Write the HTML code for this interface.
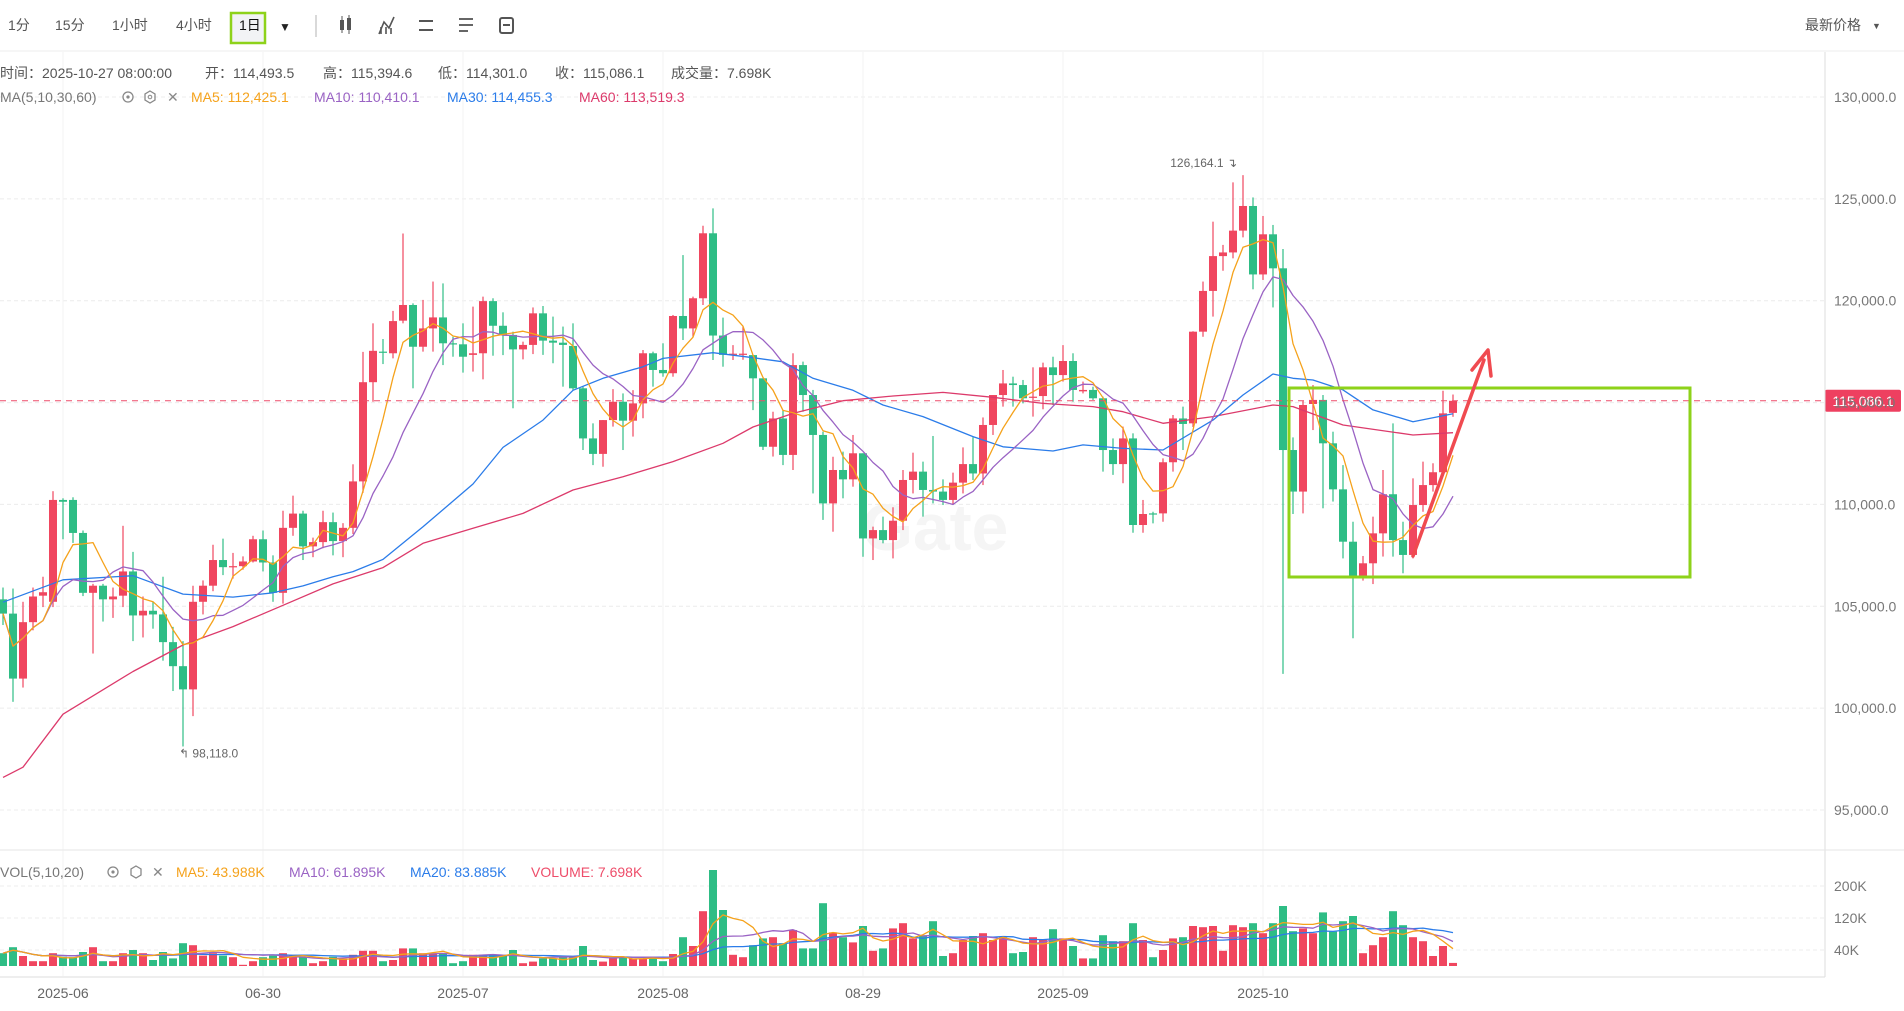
<!DOCTYPE html>
<html><head><meta charset="utf-8"><style>
html,body{margin:0;padding:0;background:#fff;}
svg{display:block;font-family:"Liberation Sans","Noto Sans CJK SC",sans-serif;}
</style></head><body>
<svg id="chart" width="1904" height="1011" viewBox="0 0 1904 1011" xmlns="http://www.w3.org/2000/svg">
<defs><clipPath id="priceClip"><rect x="0" y="52" width="1825" height="797"/></clipPath>
<clipPath id="volClip"><rect x="0" y="851" width="1825" height="125"/></clipPath></defs>
<!-- toolbar -->
<g font-size="14" fill="#555">
<text x="8" y="30">1分</text>
<text x="55" y="30">15分</text>
<text x="112" y="30">1小时</text>
<text x="176" y="30">4小时</text>
<rect x="231" y="13" width="34" height="30" fill="#f2f3f5" stroke="#8ed21a" stroke-width="2.5"/>
<text x="239" y="30" fill="#111">1日</text>
<text x="279" y="31" font-size="12" fill="#222">▼</text>
<line x1="316" y1="15" x2="316" y2="37" stroke="#ccc" stroke-width="1.5"/>
<g fill="#555"><rect x="340" y="20" width="4" height="10"/><rect x="347" y="18" width="4" height="12"/><line x1="342" y1="16" x2="342" y2="33" stroke="#555"/><line x1="349" y1="15" x2="349" y2="34" stroke="#555"/></g>
<g stroke="#555" stroke-width="1.6" fill="none"><polyline points="379,34 384,22 389,28 394,17"/><line x1="381" y1="34" x2="381" y2="27"/><line x1="386" y1="34" x2="386" y2="27"/><line x1="391" y1="34" x2="391" y2="28"/></g>
<g stroke="#555" stroke-width="2"><line x1="419" y1="21" x2="433" y2="21"/><line x1="419" y1="30" x2="433" y2="30"/></g>
<g stroke="#555" stroke-width="1.8"><line x1="459" y1="19" x2="473" y2="19"/><line x1="459" y1="25" x2="473" y2="25"/><line x1="459" y1="31" x2="468" y2="31"/></g>
<g stroke="#555" stroke-width="2" fill="none"><rect x="500" y="18" width="13" height="15" rx="2"/><line x1="503" y1="25" x2="510" y2="25"/></g>
<text x="1805" y="30" font-size="14" fill="#555">最新价格</text>
<text x="1872" y="29" font-size="9" fill="#555">▼</text>
</g>
<line x1="0" y1="51" x2="1904" y2="51" stroke="#eee"/>
<g id="grid"></g>
<g id="vol"></g>
<g id="price"></g>
<g id="axes"></g>
<!-- headers -->
<g font-size="14" fill="#555">
<text x="0" y="78">时间：2025-10-27 08:00:00</text>
<text x="205" y="78">开：114,493.5</text>
<text x="323" y="78">高：115,394.6</text>
<text x="438" y="78">低：114,301.0</text>
<text x="555" y="78">收：115,086.1</text>
<text x="671" y="78">成交量：7.698K</text>
</g>
<g font-size="14">
<text x="0" y="102" fill="#777">MA(5,10,30,60)</text>
<g><circle cx="128" cy="97" r="5" fill="none" stroke="#888" stroke-width="1.3"/><circle cx="128" cy="97" r="1.6" fill="#888"/></g>
<g><polygon points="150,91 155,94 155,100 150,103 145,100 145,94" fill="none" stroke="#888" stroke-width="1.3"/><circle cx="150" cy="97" r="1.8" fill="none" stroke="#888"/></g>
<text x="167" y="102" fill="#888">✕</text>
<text x="191" y="102" fill="#f5a21b">MA5: 112,425.1</text>
<text x="314" y="102" fill="#9a63c4">MA10: 110,410.1</text>
<text x="447" y="102" fill="#2b7ce9">MA30: 114,455.3</text>
<text x="579" y="102" fill="#dc3a6b">MA60: 113,519.3</text>
</g>
<g font-size="14">
<text x="0" y="877" fill="#777">VOL(5,10,20)</text>
<g><circle cx="113" cy="872" r="5" fill="none" stroke="#888" stroke-width="1.3"/><circle cx="113" cy="872" r="1.6" fill="#888"/></g>
<g><polygon points="136,866 141,869 141,875 136,878 131,875 131,869" fill="none" stroke="#888" stroke-width="1.3"/></g>
<text x="152" y="877" fill="#888">✕</text>
<text x="176" y="877" fill="#f5a21b">MA5: 43.988K</text>
<text x="289" y="877" fill="#9a63c4">MA10: 61.895K</text>
<text x="410" y="877" fill="#2b7ce9">MA20: 83.885K</text>
<text x="531" y="877" fill="#ee4d6a">VOLUME: 7.698K</text>
</g>
<script>
const opens=[105.34,104.64,101.45,104.22,105.52,105.22,110.22,110.22,108.60,105.66,106.01,105.34,105.52,106.71,104.55,104.78,104.60,103.24,102.06,100.92,105.22,106.01,107.27,106.92,106.97,107.20,108.29,107.15,105.66,108.85,109.55,107.94,108.15,109.13,108.20,108.85,111.13,116.00,117.50,117.42,119.02,119.79,117.74,118.64,119.18,117.91,117.86,117.34,117.42,119.98,118.77,118.32,117.61,117.83,119.38,118.04,117.94,117.78,115.70,113.24,112.48,114.14,115.04,114.11,114.96,117.42,116.60,116.44,119.25,118.64,120.12,123.31,118.29,117.34,117.35,117.33,116.19,112.83,114.22,112.43,116.84,115.37,113.41,110.05,111.69,111.23,112.51,108.33,108.74,108.25,109.20,111.20,111.61,110.71,110.63,110.22,111.07,111.98,111.52,113.90,115.37,115.94,115.86,115.25,115.32,116.73,116.35,117.04,115.55,115.62,115.21,112.67,111.98,113.24,108.99,109.56,109.56,112.07,114.22,113.98,118.48,120.48,122.19,122.37,123.44,124.65,121.29,123.26,121.59,112.67,110.63,114.93,115.13,113.00,110.74,108.17,106.37,107.11,108.58,110.50,108.25,107.52,109.97,110.95,111.58,114.4935];
const highs=[105.92,105.87,105.22,105.92,106.45,110.65,110.30,110.35,108.72,106.10,106.10,105.92,108.95,107.67,105.48,105.22,106.45,103.99,103.29,106.01,106.27,108.02,108.32,107.62,107.45,108.46,108.72,107.50,109.69,110.43,109.69,108.37,109.69,109.60,109.08,111.97,117.49,118.89,118.12,119.50,123.30,119.87,120.04,120.94,120.85,118.23,118.89,119.71,120.20,120.12,119.43,118.48,117.99,119.67,119.74,119.22,118.73,118.89,115.78,113.98,114.14,115.66,115.45,115.61,117.58,117.50,117.91,119.30,122.24,120.20,123.68,124.53,119.17,117.82,118.73,117.33,116.19,114.55,114.63,117.42,117.01,115.62,113.57,112.34,112.59,113.41,112.51,108.91,109.40,109.86,111.69,112.54,112.10,113.36,111.23,111.56,112.80,113.30,114.27,115.37,116.60,116.27,116.11,116.73,116.96,117.25,117.82,117.42,116.03,115.78,115.29,113.24,113.82,113.49,110.22,109.64,112.26,114.39,114.80,118.50,120.94,123.88,122.74,125.81,126.164,125.07,124.16,123.72,122.54,113.29,115.10,115.86,115.37,113.57,111.93,109.15,107.47,109.40,111.69,113.98,109.15,111.28,112.10,112.02,115.58,115.3946];
const lows=[104.08,100.31,101.01,103.82,104.96,104.96,108.29,108.11,105.50,102.68,104.25,104.43,104.96,103.29,103.47,103.90,102.33,100.84,98.118,99.61,104.60,105.74,106.53,106.36,106.80,107.15,106.71,105.22,105.13,108.46,107.27,107.41,107.85,107.50,107.41,108.55,110.57,115.04,116.89,117.17,118.89,115.70,117.50,117.50,116.84,117.25,116.47,116.52,116.14,117.30,117.33,114.72,117.12,117.38,117.34,116.93,115.78,115.61,112.67,111.93,111.85,113.82,112.67,113.33,114.23,115.78,116.27,116.27,118.07,118.23,119.79,117.09,116.76,117.09,117.10,114.63,112.67,112.35,111.93,111.69,114.55,110.54,109.24,108.66,110.30,110.87,107.43,107.27,108.09,107.35,108.74,110.54,109.40,110.05,109.97,110.02,110.54,111.20,110.95,113.41,114.80,114.80,114.96,114.31,114.67,114.88,116.03,115.04,115.45,115.13,111.61,111.45,111.04,108.61,108.61,109.07,109.15,111.61,112.67,113.80,118.23,119.22,121.47,122.08,123.11,120.56,121.02,119.67,101.68,109.53,109.56,113.65,109.81,110.14,107.35,103.43,106.26,106.09,107.44,107.44,106.62,107.35,109.64,110.63,111.40,114.301];
const closes=[104.64,101.45,104.22,105.48,105.69,110.22,110.13,108.60,105.66,106.01,105.34,105.48,106.71,104.55,104.78,104.60,103.24,102.06,100.92,105.22,106.01,107.27,106.92,106.97,107.20,108.29,107.15,105.66,108.85,109.55,107.94,108.15,109.13,108.20,108.85,111.13,116.00,117.54,117.45,119.00,119.79,117.74,118.64,119.18,117.91,117.86,117.25,117.42,119.98,118.77,118.32,117.61,117.83,119.38,118.04,117.94,117.83,115.70,113.24,112.48,114.14,115.04,114.11,114.96,117.42,116.60,116.44,119.25,118.64,120.12,123.31,118.29,117.34,117.40,117.40,116.19,112.83,114.22,112.43,116.84,115.37,113.41,110.05,111.69,111.23,112.51,108.33,108.74,108.25,109.20,111.20,111.61,110.71,110.63,110.22,111.07,111.98,111.52,113.90,115.37,115.94,115.86,115.21,115.29,116.73,116.35,117.04,115.62,115.62,115.21,112.67,111.98,113.24,108.99,109.53,109.53,112.07,114.22,113.95,118.48,120.48,122.19,122.37,123.44,124.65,121.29,123.26,121.59,112.67,110.63,114.88,115.13,113.00,110.74,108.17,106.37,107.11,108.58,110.50,108.25,107.52,109.97,110.95,111.58,114.47,115.0861];
const volumes=[32,47,25,12,12,32,23,22,35,47,12,12,32,40,32,15,35,19,57,52,26,32,26,22,3,12,22,26,32,28,22,7,12,23,19,28,38,38,12,15,44,44,32,32,32,7,12,28,28,28,28,40,7,11,19,19,23,23,50,15,11,19,23,19,19,19,12,30,72,50,137,240,140,28,22,52,69,72,57,90,44,44,157,84,72,59,100,38,44,94,107,69,77,112,25,32,65,75,82,65,72,32,35,72,65,92,69,50,19,19,77,62,62,107,65,22,40,69,72,100,97,100,38,102,97,107,82,107,150,87,94,82,134,86,112,125,32,52,72,137,102,72,62,25,50,7.698];
const ma30Idx=[0,6,13,18,23,27,30,33,35,38,42,47,50,54,57,60,64,66,71,75,78,81,85,88,92,97,100,105,108,112,116,121,124,127,129,131,134,137,141,145];
const ma30Val=[105.2,106.3,106.5,105.6,105.45,105.66,106.0,106.45,106.7,107.3,108.9,111.0,112.8,114.14,115.6,116.19,116.76,117.17,117.45,117.2,117.0,116.19,115.6,114.88,114.31,113.33,112.83,112.62,112.92,112.75,112.67,114.14,115.37,116.4,116.19,116.11,115.62,114.64,114.06,114.455];
const ma60Idx=[0,2,6,13,18,23,28,33,38,42,47,52,57,62,67,72,75,79,84,89,94,99,104,109,112,116,121,127,129,134,141,145];
const ma60Val=[96.6,97.1,99.7,101.8,103.1,104.0,105.05,106.1,106.9,108.09,108.83,109.56,110.71,111.36,112.1,113.0,113.8,114.47,115.09,115.32,115.5,115.26,114.96,114.8,114.55,113.98,114.31,114.88,114.8,113.9,113.41,113.52];
const priceTicks=[130,125,120,115,110,105,100,95];
const priceTickLabels=["130,000.0","125,000.0","120,000.0","115,000.0","110,000.0","105,000.0","100,000.0","95,000.0"];
const volTicks=[200,120,40];
const volTickLabels=["200K","120K","40K"];
const dateIdx=[6,26,46,66,86,106,126];
const dateLabels=["2025-06","06-30","2025-07","2025-08","08-29","2025-09","2025-10"];
const lastPrice=115.0861;

const NS="http://www.w3.org/2000/svg";
const UP="#f0465f", DOWN="#2ebd85";
function X(i){return 3+10*i;}
function YP(p){return 97+(130-p)*20.371;}
function YV(v){return 966-v*0.4;}
function mk(tag,attrs,parent){const e=document.createElementNS(NS,tag);for(const k in attrs)e.setAttribute(k,attrs[k]);parent.appendChild(e);return e;}
function ma(arr,n){return arr.map((v,i)=>{const s=Math.max(0,i-n+1);let t=0;for(let j=s;j<=i;j++)t+=arr[j];return t/(i-s+1);});}

const grid=document.getElementById('grid'), price=document.getElementById('price'), vol=document.getElementById('vol'), axes=document.getElementById('axes');
priceTicks.forEach((t,k)=>{
  const l=mk('line',{x1:0,x2:1825,y1:YP(t),y2:YP(t),stroke:'#ececec','stroke-dasharray':'4,3'},grid);
  
  
  const tx=mk('text',{x:1834,y:YP(t)+5,'font-size':14,fill:'#777'},axes);
  tx.textContent=priceTickLabels[k];
  
  
});
volTicks.forEach((t,k)=>{
  const l=mk('line',{x1:0,x2:1825,y1:YV(t),y2:YV(t),stroke:'#ececec','stroke-dasharray':'4,3'},grid);
  
  
  const tx=mk('text',{x:1834,y:YV(t)+5,'font-size':14,fill:'#777'},axes);
  tx.textContent=volTickLabels[k];
  
  
});
dateIdx.forEach((d,k)=>{
  const l=mk('line',{x1:X(d),x2:X(d),y1:52,y2:976,stroke:'#f3f3f3'},grid);
  
  
  const tx=mk('text',{x:X(d),y:998,'font-size':14,fill:'#666','text-anchor':'middle'},axes);
  tx.textContent=dateLabels[k];
  
  
});
mk('line',{x1:1825,x2:1825,y1:52,y2:977,stroke:'#ddd'},axes);
mk('line',{x1:0,x2:1904,y1:850,y2:850,stroke:'#e6e6e6'},axes);
mk('line',{x1:0,x2:1825,y1:977,y2:977,stroke:'#ddd'},axes);
const wm=mk('text',{x:935,y:550,'font-size':66,'font-weight':'bold',fill:'#f5f5f5','text-anchor':'middle'},grid);
wm.textContent='Gate';



const vg=mk('g',{'clip-path':'url(#volClip)'},vol);
volumes.forEach((v,i)=>{
  const c=closes[i]>=opens[i]?UP:DOWN;
  const r=mk('rect',{x:X(i)-4,y:YV(v),width:8,height:Math.max(1,966-YV(v)),fill:c},vg);
  
  
});
function line(idx,vals,yf,color,parent,name,w){
  const pts=idx.map((d,k)=>X(d)+','+yf(vals[k]).toFixed(1)).join(' ');
  const p=mk('polyline',{points:pts,fill:'none',stroke:color,'stroke-width':w||1.3,'stroke-linejoin':'round'},parent);
  
  
}
const allIdx=volumes.map((v,i)=>i);
line(allIdx,ma(volumes,20),YV,'#2b7ce9',vg,'volume-ma20-line');
line(allIdx,ma(volumes,10),YV,'#9a63c4',vg,'volume-ma10-line');
line(allIdx,ma(volumes,5),YV,'#f5a21b',vg,'volume-ma5-line');

const pg=mk('g',{'clip-path':'url(#priceClip)'},price);
closes.forEach((c,i)=>{
  const o=opens[i],col=c>=o?UP:DOWN;
  const g=mk('g',{},pg);
  
  
  mk('line',{x1:X(i),x2:X(i),y1:YP(highs[i]),y2:YP(lows[i]),stroke:col,'stroke-width':1.2},g);
  const top=YP(Math.max(o,c)),bot=YP(Math.min(o,c));
  mk('rect',{x:X(i)-4,y:top,width:8,height:Math.max(1.2,bot-top),fill:col},g);
});
line(ma60Idx,ma60Val,YP,'#dc3a6b',pg,'ma60-line');
line(ma30Idx,ma30Val,YP,'#2b7ce9',pg,'ma30-line');
line(allIdx,ma(closes,10),YP,'#9a63c4',pg,'ma10-line');
line(allIdx,ma(closes,5),YP,'#f5a21b',pg,'ma5-line');

const ly=YP(lastPrice);
const pl=mk('line',{x1:0,x2:1825,y1:ly,y2:ly,stroke:'#ee4d6a','stroke-dasharray':'6,5'},price);


const tag=mk('rect',{x:1825,y:ly-11,width:76,height:22,rx:2,fill:'#ee4060'},price);


const tt=mk('text',{x:1863,y:ly+5,'font-size':14,fill:'#fff','text-anchor':'middle'},price);
tt.textContent='115,086.1';

const hiI=124, loI=18;
const ha=mk('text',{x:X(hiI)-6,y:YP(highs[hiI])-8,'font-size':12,fill:'#666','text-anchor':'end'},price);
ha.textContent='126,164.1 ↴';


const la=mk('text',{x:X(loI)-4,y:YP(lows[loI])+11,'font-size':12,fill:'#666'},price);
la.textContent='↰ 98,118.0';



const box=mk('rect',{x:1289,y:388,width:401,height:189,fill:'none',stroke:'#8ed21a','stroke-width':3},price);


const ar=mk('g',{},price);


mk('line',{x1:1413,y1:556,x2:1484,y2:360,stroke:'#f04a50','stroke-width':3.5,'stroke-linecap':'round'},ar);
mk('polyline',{points:'1472,370 1488,350 1491,376',fill:'none',stroke:'#f04a50','stroke-width':3.5,'stroke-linecap':'round','stroke-linejoin':'round'},ar);
</script>
</svg>
</body></html>
